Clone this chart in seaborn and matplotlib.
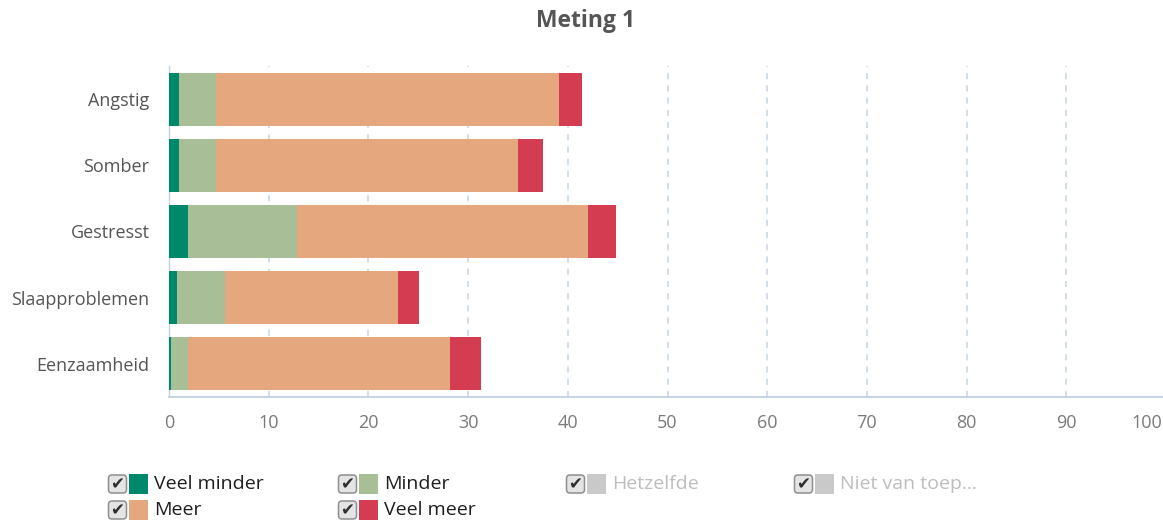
import matplotlib
matplotlib.use("Agg")
import matplotlib.pyplot as plt
import matplotlib.transforms as mtransforms
from matplotlib.patches import FancyBboxPatch, Rectangle
import numpy as np
import pandas as pd
import seaborn as sns

# Data: share of respondents (%) per answer, per complaint
categories = ["Angstig", "Somber", "Gestresst", "Slaapproblemen", "Eenzaamheid"]
veel_minder = [1.0, 1.0, 1.9, 0.8, 0.2]
minder = [3.7, 3.7, 10.9, 4.8, 1.7]
meer = [34.4, 30.3, 29.2, 17.4, 26.3]
veel_meer = [2.3, 2.5, 2.8, 2.1, 3.1]
x_ticks = [0, 10, 20, 30, 40, 50, 60, 70, 80, 90, 100]

series_names = ["Veel minder", "Minder", "Meer", "Veel meer"]
series_values = [veel_minder, minder, meer, veel_meer]
colors = {"Veel minder": "#00886a", "Minder": "#a7be96",
          "Meer": "#e4a77e", "Veel meer": "#d43c51"}

sns.set_theme(style="white")
plt.rcParams["font.family"] = ["Open Sans", "DejaVu Sans"]

W, H = 1163, 527
fig = plt.figure(figsize=(W / 100, H / 100), dpi=100)
fig.patch.set_facecolor("white")

left_px, right_px, top_px, bot_px = 169, 1166, 66, 397
ax = fig.add_axes([left_px / W, 1 - bot_px / H,
                   (right_px - left_px) / W, (bot_px - top_px) / H])

df = pd.DataFrame({"categorie": categories})
cum = np.zeros(len(categories))
cums = []
for name, vals in zip(series_names, series_values):
    cum = cum + np.array(vals)
    cums.append((name, cum.copy()))

# Draw stacked segments from the outermost cumulative total inwards
for name, c in reversed(cums):
    d = df.assign(waarde=c)
    sns.barplot(data=d, x="waarde", y="categorie", color=colors[name],
                orient="h", width=0.8, saturation=1, ax=ax, zorder=3,
                linewidth=0)

ax.set_xlim(0, 100)
ax.set_ylim(4.5, -0.5)
ax.set_xlabel("")
ax.set_ylabel("")
ax.set_xticks(x_ticks)
ax.set_xticklabels([str(t) for t in x_ticks])

grid_col = "#c3d4e6"
for t in x_ticks[1:]:
    ax.axvline(t, color=grid_col, lw=1.1, ls=(0, (4, 4)), zorder=1)

for s in ["top", "right"]:
    ax.spines[s].set_visible(False)
ax.spines["bottom"].set_color("#bfd1e3")
ax.spines["bottom"].set_linewidth(1.3)
ax.spines["left"].set_color("#bfd1e3")
ax.spines["left"].set_linewidth(1.0)

ax.tick_params(axis="x", length=0, pad=12, labelsize=13, labelcolor="#7a7a7a")
ax.tick_params(axis="y", length=0, pad=14, labelsize=13, labelcolor="#555555")
# small minor ticks on the category boundaries
ax.set_yticks(np.arange(-0.5, 5.0, 1.0), minor=True)
ax.tick_params(axis="y", which="minor", length=4, color="#bfd1e3", width=1)

# keep the last x label inside the figure
last = ax.get_xticklabels()[-1]
last.set_transform(last.get_transform() +
                   mtransforms.ScaledTranslation(-19 / 100, 0, fig.dpi_scale_trans))

fig.text(586 / W, 1 - 21 / H, "Meting 1", ha="center", va="center",
         fontsize=16.5, fontweight="bold", color="#555555")

# Legend with checkbox toggles
lg = fig.add_axes([0, 0, 1, 1], zorder=5)
lg.set_xlim(0, W)
lg.set_ylim(H, 0)
lg.axis("off")

legend_items = [
    ("Veel minder", colors["Veel minder"], True, 108, 484),
    ("Minder", colors["Minder"], True, 338, 484),
    ("Hetzelfde", "#c9c9c9", False, 566, 484),
    ("Niet van toep...", "#c9c9c9", False, 794, 484),
    ("Meer", colors["Meer"], True, 108, 510),
    ("Veel meer", colors["Veel meer"], True, 338, 510),
]
for label, col, active, x0, yc in legend_items:
    box = FancyBboxPatch((x0 + 0.5, yc - 9), 18, 18,
                         boxstyle="round,pad=0,rounding_size=3.5",
                         facecolor="#e4e4e4", edgecolor="#8f8f8f", lw=1.1)
    lg.add_patch(box)
    lg.text(x0 + 9.5, yc + 0.5, "\u2714", ha="center", va="center",
            fontsize=12, color="#2e2e2e", family="DejaVu Sans")
    lg.add_patch(Rectangle((x0 + 21, yc - 10), 19, 20, facecolor=col,
                           edgecolor="none"))
    lg.text(x0 + 46, yc, label, ha="left", va="center", fontsize=14,
            color="#1e1e1e" if active else "#bdbdbd")

fig.savefig("out.png", dpi=100, facecolor="white")
